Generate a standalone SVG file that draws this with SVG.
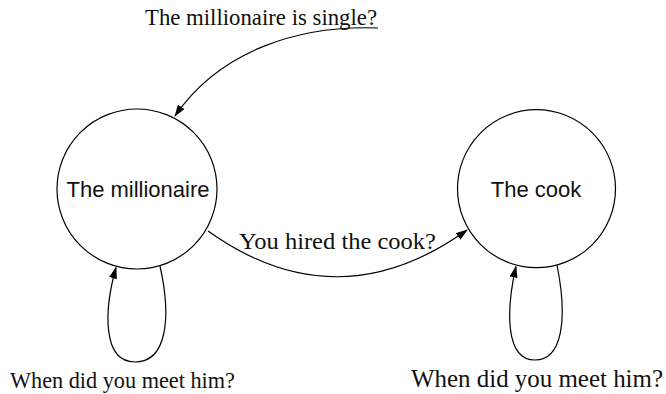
<svg xmlns="http://www.w3.org/2000/svg" width="666" height="394" viewBox="0 0 666 394">
  <style>
    .node { fill: #fff; stroke: #000; stroke-width: 1.2; }
    .nlabel { font-family: "Liberation Sans", Arial, sans-serif; font-size: 22px; fill: #111; text-anchor: middle; }
    .elabel { font-family: "Liberation Serif", "Times New Roman", serif; font-size: 23px; fill: #111; }
    .edge { fill: none; stroke: #000; stroke-width: 1.2; marker-end: url(#arrow); }
  </style>
  <defs>
    <marker id="arrow" viewBox="0 0 12 8" refX="11" refY="4" markerWidth="12" markerHeight="8" markerUnits="userSpaceOnUse" orient="auto">
      <path d="M0,0 L12,4 L0,8 z" fill="#000"/>
    </marker>
  </defs>

  <rect width="666" height="394" fill="#fff"/>

  <g id="millionaire">
    <circle class="node" cx="137" cy="189" r="80"/>
    <text class="nlabel" x="138" y="197">The millionaire</text>
  </g>

  <g id="cook">
    <circle class="node" cx="536.5" cy="188.7" r="79"/>
    <text class="nlabel" x="536" y="197">The cook</text>
  </g>

  <g id="connectors">
    <path class="edge" d="M378,28 C300,25 220,50 175,116"/>
    <path class="edge" d="M208,231 Q337,323 467,230"/>
    <path class="edge" d="M160,266 C172,320 166,362 135,362 C102,362 104,310 116,267.5"/>
    <path class="edge" d="M557,265 C568,320 562,360 535,360 C505,360 506,310 516,266.5"/>
    <text class="elabel" x="145" y="25" textLength="232" lengthAdjust="spacingAndGlyphs">The millionaire is single?</text>
    <text class="elabel" x="239" y="249" textLength="197" lengthAdjust="spacingAndGlyphs">You hired the cook?</text>
    <text class="elabel" x="10" y="388" textLength="225" lengthAdjust="spacingAndGlyphs">When did you meet him?</text>
    <text class="elabel" x="411" y="387" textLength="252" lengthAdjust="spacingAndGlyphs" style="font-size:25px">When did you meet him?</text>
  </g>
</svg>
